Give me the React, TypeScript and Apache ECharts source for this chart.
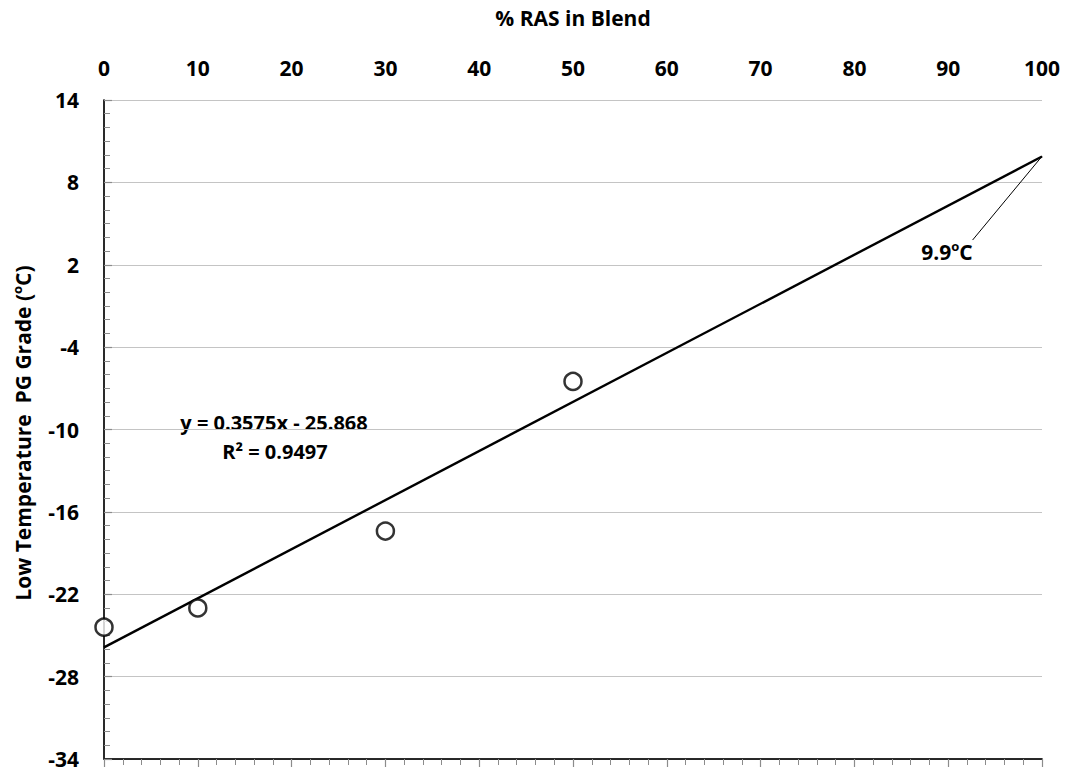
import React, { useEffect, useRef } from "react";
import * as echarts from "echarts";

// ---- data ----
const rasPercent = [0, 10, 30, 50];
const lowTempGrade = [-24.4, -23.0, -17.4, -6.5];
const trendSlope = 0.3575;
const trendIntercept = -25.868;
const trendX = [0, 100];
const xTicks = { min: 0, max: 100, step: 10 };
const yTicks = { min: -34, max: 14, step: 6 };
const arrowFrom = [92.6, 3.8];
const arrowTo = [100, 9.9];
const equationText = "y = 0.3575x - 25.868";
const r2Text = "R² = 0.9497";

const FONT = "'Open Sans', Lato, sans-serif";
const FS = 21;
// y values are offset so that ticks start at the axis minimum
const OFF = -yTicks.min;

export default function App() {
  const ref = useRef<HTMLDivElement>(null);
  useEffect(() => {
    document.body.style.margin = "0";
    const chart = echarts.init(ref.current!, null, { renderer: "svg" });
    const scatterData = rasPercent.map((x, i) => [x, lowTempGrade[i] + OFF]);
    const trendData = trendX.map((x) => [x, trendSlope * x + trendIntercept + OFF]);
    const labelStyle = { fontFamily: FONT, fontWeight: "bold", fontSize: FS, color: "#000" };
    const richA = { fontFamily: FONT, fontWeight: "bold", fontSize: FS, fill: "#000", lineHeight: 26, verticalAlign: "middle" };
    const richS = { fontFamily: FONT, fontWeight: "bold", fontSize: 13, fill: "#000", lineHeight: 26, verticalAlign: "top" };
    chart.setOption({
      animation: false,
      grid: { left: 104, top: 100, right: 25, bottom: 13 },
      xAxis: [
        {
          type: "value",
          position: "top",
          min: xTicks.min,
          max: xTicks.max,
          interval: xTicks.step,
          name: "% RAS in Blend",
          nameLocation: "middle",
          nameGap: 72,
          nameTextStyle: { ...labelStyle },
          axisLine: { show: true, lineStyle: { color: "#8c8c8c", width: 1.5 } },
          axisTick: { show: true, inside: true, length: 8, lineStyle: { color: "#8c8c8c", width: 1.2 } },
          minorTick: { show: true, splitNumber: 5, length: 6, lineStyle: { color: "#8c8c8c", width: 1 } },
          axisLabel: { ...labelStyle, margin: 22 },
          splitLine: { show: false },
        },
        {
          type: "value",
          position: "bottom",
          min: xTicks.min,
          max: xTicks.max,
          axisLine: { show: true, lineStyle: { color: "#000", width: 1.5 } },
          axisTick: { show: false },
          axisLabel: { show: false },
          splitLine: { show: false },
        },
      ],
      yAxis: [
        {
          type: "value",
          position: "left",
          min: 0,
          max: yTicks.max + OFF,
          interval: yTicks.step,
          axisLine: { show: true, lineStyle: { color: "#8c8c8c", width: 1.5 } },
          axisTick: { show: true, inside: true, length: 8, lineStyle: { color: "#8c8c8c", width: 1.2 } },
          minorTick: { show: true, splitNumber: 6, length: 6, lineStyle: { color: "#8c8c8c", width: 1 } },
          axisLabel: {
            ...labelStyle,
            margin: 25,
            formatter: (v: number) => String(Math.round(v - OFF)),
          },
          splitLine: { show: true, lineStyle: { color: "#c4c4c4", width: 1.2 } },
        },
        {
          type: "value",
          position: "right",
          min: 0,
          max: yTicks.max + OFF,
          axisLine: { show: true, lineStyle: { color: "#000", width: 1.5 } },
          axisTick: { show: false },
          axisLabel: { show: false },
          splitLine: { show: false },
        },
      ],
      graphic: [
        {
          type: "text",
          x: 23,
          y: 433,
          rotation: Math.PI / 2,
          style: {
            text: "{a|Low Temperature  PG Grade (}{s|o}{a|C)}",
            rich: { a: richA, s: richS },
            align: "center",
            verticalAlign: "middle",
          },
        },
        {
          type: "text",
          x: 274,
          y: 422,
          style: { text: equationText, font: `bold 20px ${FONT}`, fill: "#000", align: "center", verticalAlign: "middle" },
        },
        {
          type: "text",
          x: 275,
          y: 451,
          style: { text: r2Text, font: `bold 20px ${FONT}`, fill: "#000", align: "center", verticalAlign: "middle" },
        },
        {
          type: "text",
          x: 947,
          y: 252,
          style: {
            text: "{a|9.9}{s|o}{a|C}",
            rich: { a: richA, s: richS },
            align: "center",
            verticalAlign: "middle",
          },
        },
      ],
      series: [
        {
          type: "line",
          data: trendData,
          symbol: "none",
          lineStyle: { color: "#000", width: 2.4 },
          z: 2,
          markLine: {
            silent: true,
            symbol: ["none", "arrow"],
            symbolSize: [0, 9],
            label: { show: false },
            lineStyle: { color: "#000", width: 1, type: "solid" },
            data: [[{ coord: [arrowFrom[0], arrowFrom[1] + OFF] }, { coord: [arrowTo[0], arrowTo[1] + OFF] }]],
          },
        },
        {
          type: "scatter",
          data: scatterData,
          symbol: "circle",
          symbolSize: 17,
          itemStyle: { color: "#fff", borderColor: "#000", borderWidth: 2.5 },
          z: 3,
        },
      ],
    });
    return () => chart.dispose();
  }, []);
  return <div ref={ref} style={{ width: 1067, height: 772 }} />;
}
